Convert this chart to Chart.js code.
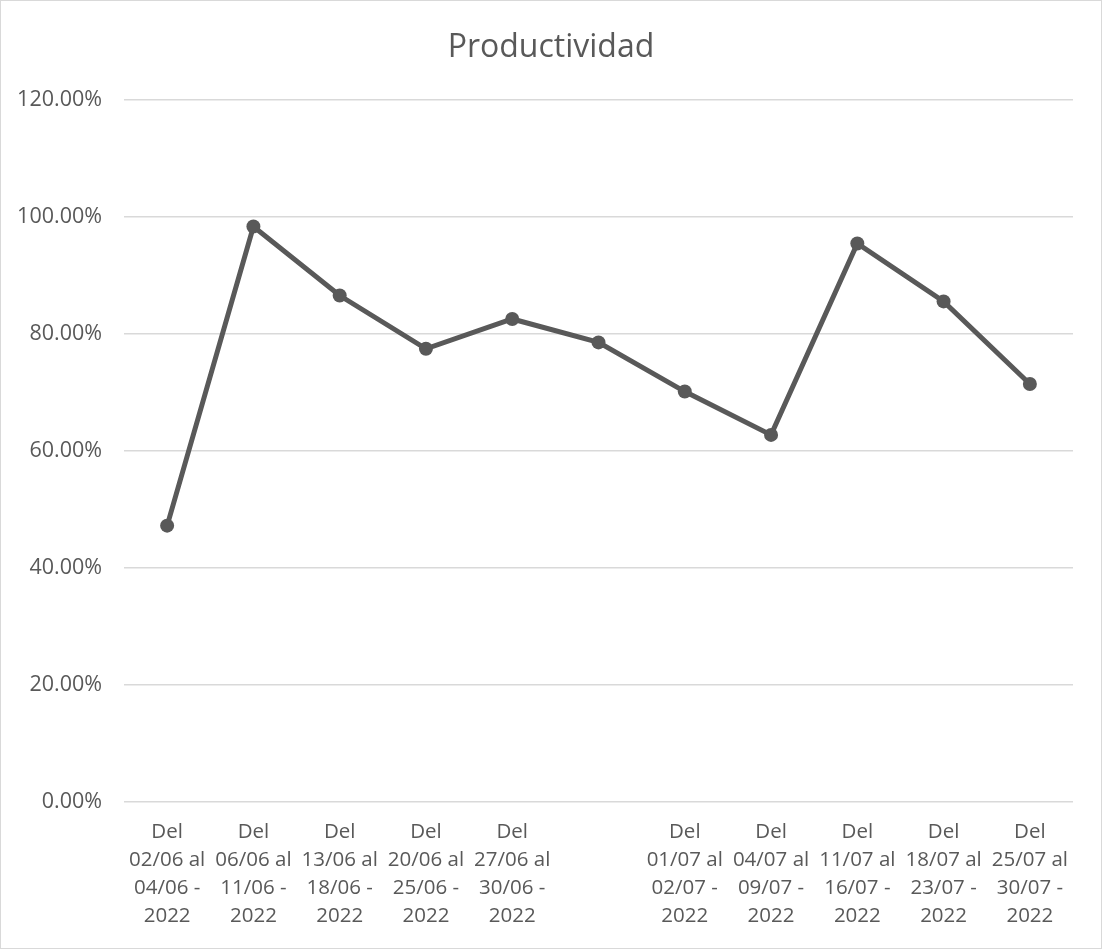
<!DOCTYPE html>
<html lang="es">
<head>
<meta charset="utf-8">
<title>Productividad</title>
<script src="https://cdn.jsdelivr.net/npm/chart.js@4.4.1/dist/chart.umd.min.js"></script>
<style>
  html, body { margin: 0; padding: 0; background: #ffffff; }
  #wrap { width: 1102px; height: 949px; position: relative; }
</style>
</head>
<body>
<div id="wrap"><canvas id="chart" width="1102" height="949"></canvas></div>
<script>
// Weekly periods (multi-line category labels); the sixth period has no label
const periods = [
  ['Del', '02/06 al', '04/06 -', '2022'],
  ['Del', '06/06 al', '11/06 -', '2022'],
  ['Del', '13/06 al', '18/06 -', '2022'],
  ['Del', '20/06 al', '25/06 -', '2022'],
  ['Del', '27/06 al', '30/06 -', '2022'],
  '',
  ['Del', '01/07 al', '02/07 -', '2022'],
  ['Del', '04/07 al', '09/07 -', '2022'],
  ['Del', '11/07 al', '16/07 -', '2022'],
  ['Del', '18/07 al', '23/07 -', '2022'],
  ['Del', '25/07 al', '30/07 -', '2022']
];

// Productivity per period, in percent
const productividad = [47.2, 98.3, 86.5, 77.4, 82.5, 78.5, 70.1, 62.7, 95.4, 85.5, 71.4];

// Value axis range and step, in percent
const yMin = 0;
const yMax = 120;
const yStep = 20;

const GREY = '#595959';
const GRID = '#d9d9d9';
const FONT = "'Open Sans', 'Liberation Sans', sans-serif";

// White background and thin frame around the whole chart
const framePlugin = {
  id: 'frame',
  beforeDraw(chart) {
    const ctx = chart.ctx;
    ctx.save();
    ctx.fillStyle = '#ffffff';
    ctx.fillRect(0, 0, chart.width, chart.height);
    ctx.restore();
  },
  afterDraw(chart) {
    const ctx = chart.ctx;
    ctx.save();
    ctx.strokeStyle = GRID;
    ctx.lineWidth = 1;
    ctx.strokeRect(0.5, 0.5, chart.width - 1, chart.height - 1);
    ctx.restore();
  }
};

new Chart(document.getElementById('chart'), {
  type: 'line',
  data: {
    labels: periods,
    datasets: [{
      label: 'Productividad',
      data: productividad,
      borderColor: GREY,
      backgroundColor: GREY,
      borderWidth: 5,
      pointRadius: 7,
      pointHoverRadius: 7,
      pointBackgroundColor: GREY,
      pointBorderColor: GREY,
      pointBorderWidth: 0,
      tension: 0,
      fill: false
    }]
  },
  options: {
    responsive: false,
    animation: false,
    devicePixelRatio: 1,
    layout: { padding: 0 },
    plugins: {
      legend: { display: false },
      tooltip: { enabled: false },
      title: {
        display: true,
        text: 'Productividad',
        color: GREY,
        font: { family: FONT, size: 32, weight: 'normal', lineHeight: 1.2 },
        padding: { top: 29, bottom: 32 }
      }
    },
    scales: {
      x: {
        offset: true,
        grid: { display: false, drawTicks: false },
        border: { display: false },
        ticks: {
          color: GREY,
          font: { family: FONT, size: 20.5, lineHeight: 1.37 },
          padding: 16,
          maxRotation: 0,
          minRotation: 0,
          autoSkip: false
        },
        afterFit(scale) { scale.height = 147; }
      },
      y: {
        min: yMin,
        max: yMax,
        grid: { color: GRID, lineWidth: 1.5, drawTicks: false },
        border: { display: false },
        ticks: {
          stepSize: yStep,
          color: GREY,
          font: { family: FONT, size: 21.5 },
          padding: 22,
          callback: (v) => v.toFixed(2) + '%'
        },
        afterFit(scale) { scale.width = 124; }
      },
      // empty right-hand margin beside the plot
      yRight: {
        position: 'right',
        min: yMin,
        max: yMax,
        grid: { display: false, drawTicks: false },
        border: { display: false },
        ticks: { display: false },
        afterFit(scale) { scale.width = 29; }
      }
    }
  },
  plugins: [framePlugin]
});
</script>
</body>
</html>
